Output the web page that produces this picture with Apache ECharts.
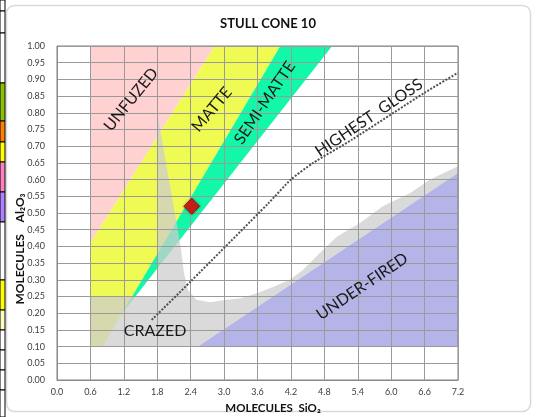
<!DOCTYPE html>
<html>
<head>
<meta charset="utf-8">
<script src="https://cdn.jsdelivr.net/npm/echarts@6/dist/echarts.min.js"></script>
<style>
html, body { margin: 0; padding: 0; background: #fff; }
#main { width: 536px; height: 417px; }
</style>
</head>
<body>
<div id="main"></div>
<script>
// region outlines, [SiO2, Al2O3]
var unfuzed = [[0.6, 0.41], [0.6, 1.0], [2.83, 1.0]];
var matte = [[0.6, 0.1], [0.6, 0.41], [2.83, 1.0], [4.01, 1.0], [0.82, 0.1]];
var semiMatte = [[4.01, 1.0], [4.94, 1.0], [1.17, 0.2]];
var crazed = [[0.6, 0.1], [2.53, 0.1], [7.2, 0.62], [7.2, 0.64], [6.7, 0.6], [6.34, 0.56],
  [5.85, 0.52], [5.44, 0.47], [5.03, 0.43], [4.72, 0.38], [4.42, 0.33], [4.18, 0.3],
  [3.9, 0.28], [3.59, 0.26], [3.3, 0.245], [3.05, 0.24], [2.75, 0.233], [2.5, 0.24],
  [2.35, 0.27], [2.28, 0.32], [2.22, 0.4], [1.8, 0.8], [1.8, 0.25], [0.6, 0.25]];
var underFired = [[2.53, 0.1], [7.2, 0.1], [7.2, 0.62]];
var highestGloss = [[1.7, 0.18], [2.4, 0.295], [3.8, 0.53], [4.2, 0.6], [4.6, 0.65],
  [5.3, 0.72], [6.6, 0.86], [7.2, 0.92]];
var glaze = [[2.42, 0.52]];

var labelNames = ['UNFUZED', 'MATTE', 'SEMI-MATTE', 'HIGHEST  GLOSS', 'UNDER-FIRED', 'CRAZED'];
var labelAt = [[1.33, 0.84], [2.78, 0.81], [3.73, 0.83], [5.6, 0.785], [5.48, 0.28], [1.76, 0.147]];
var labelAngle = [51, 50, 56, 34, 34, 0];

var font = 'Lato, "Open Sans", sans-serif';

var chartDom = document.getElementById('main');
var myChart = echarts.init(chartDom);

function area(name, pts, color, z) {
  return {
    type: 'custom',
    name: name,
    coordinateSystem: 'cartesian2d',
    data: pts,
    z: z,
    silent: true,
    renderItem: function (params, api) {
      if (params.dataIndex !== 0) return null;
      return {
        type: 'polygon',
        shape: { points: pts.map(function (p) { return api.coord(p); }) },
        style: { fill: color }
      };
    }
  };
}

// spreadsheet cells peeking out on the left
var cells = [
  [0, 11, '#fff'], [11, 33, '#fff'], [33, 83, '#fff'], [83, 121, '#8dc000'], [121, 142, '#ff8000'],
  [142, 162, '#ffff00'], [162, 192, '#ff80c0'], [192, 222, '#b080ff'], [222, 280, '#fff'],
  [280, 310, '#ffff00'], [310, 330, '#ffffc0'], [330, 350, '#fff'], [350, 370, '#fff'],
  [370, 390, '#fff'], [390, 417, '#fff']
];
var cellGraphics = cells.map(function (c) {
  return { type: 'rect', shape: { x: 0, y: c[0], width: 5, height: c[1] - c[0] },
    style: { fill: c[2], stroke: '#000', lineWidth: 1 }, z: 0 };
});

var option = {
  backgroundColor: '#fff',
  animation: false,
  title: {
    text: 'STULL CONE 10',
    left: 'center',
    top: 12,
    textStyle: { fontFamily: font, fontSize: 13, fontWeight: 'bold', color: '#111' }
  },
  grid: { left: 57, right: 78, top: 46, bottom: 37, show: true, borderColor: '#7f7f7f', borderWidth: 1, z: 5 },
  xAxis: {
    type: 'value', min: 0, max: 7.2, interval: 0.6, z: 5,
    axisLine: { show: true, lineStyle: { color: '#8c8c8c' } },
    axisTick: { show: false },
    splitLine: { show: true, lineStyle: { color: '#9a9a9a', width: 1 } },
    axisLabel: { fontFamily: font, fontSize: 9, color: '#404040', margin: 8,
      formatter: function (v) { return v.toFixed(1); } }
  },
  yAxis: {
    type: 'value', min: 0, max: 1, interval: 0.05, z: 5,
    axisLine: { show: true, lineStyle: { color: '#8c8c8c' } },
    axisTick: { show: false },
    splitLine: { show: true, lineStyle: { color: '#9a9a9a', width: 1 } },
    axisLabel: { fontFamily: font, fontSize: 9, color: '#404040', margin: 12,
      formatter: function (v) { return v.toFixed(2); } }
  },
  graphic: [
    { type: 'rect', shape: { x: 6.5, y: 5.5, width: 524, height: 406, r: 8 },
      style: { fill: 'none', stroke: '#d9d9d9', lineWidth: 1.5 }, z: 0 }
  ].concat(cellGraphics).concat([
    { type: 'text', x: 273, y: 408, z: 20,
      style: { text: 'MOLECULES  SiO₂', font: 'bold 11.5px ' + font, fill: '#111', align: 'center', verticalAlign: 'middle' } },
    { type: 'text', x: 20, y: 249, rotation: Math.PI / 2, z: 20,
      style: { text: 'MOLECULES    Al₂O₃', font: 'bold 12px ' + font, fill: '#111', align: 'center', verticalAlign: 'middle' } }
  ]),
  series: [
    area('UNFUZED', unfuzed, '#ffd1d1', 1),
    area('MATTE', matte, '#effb52', 1),
    area('SEMI-MATTE', semiMatte, '#12f7a8', 1),
    area('CRAZED', crazed, 'rgba(205,205,205,0.75)', 1),
    area('UNDER-FIRED', underFired, '#b4b4e9', 1),
    {
      type: 'line', name: 'HIGHEST GLOSS', data: highestGloss, smooth: 0.2, symbol: 'none', z: 10,
      lineStyle: { color: '#505050', width: 2, type: [2, 1.5] }
    },
    {
      type: 'scatter', name: 'glaze', data: glaze, symbol: 'diamond', symbolSize: [16, 16], z: 12,
      itemStyle: { color: '#ee0000', borderColor: '#a00000', borderWidth: 1,
        shadowBlur: 3, shadowColor: 'rgba(0,0,0,0.4)' }
    }
  ]
};

option && myChart.setOption(option);

// region names placed at data coordinates
var labelGraphics = labelNames.map(function (t, i) {
  var p = myChart.convertToPixel({ gridIndex: 0 }, labelAt[i]);
  return {
    type: 'text', x: p[0], y: p[1], rotation: labelAngle[i] * Math.PI / 180, z: 30,
    style: { text: t, font: '16px ' + font, fill: '#1a1a1a',
      align: 'center', verticalAlign: 'middle' }
  };
});
myChart.setOption({ graphic: option.graphic.concat(labelGraphics) });
</script>
</body>
</html>
